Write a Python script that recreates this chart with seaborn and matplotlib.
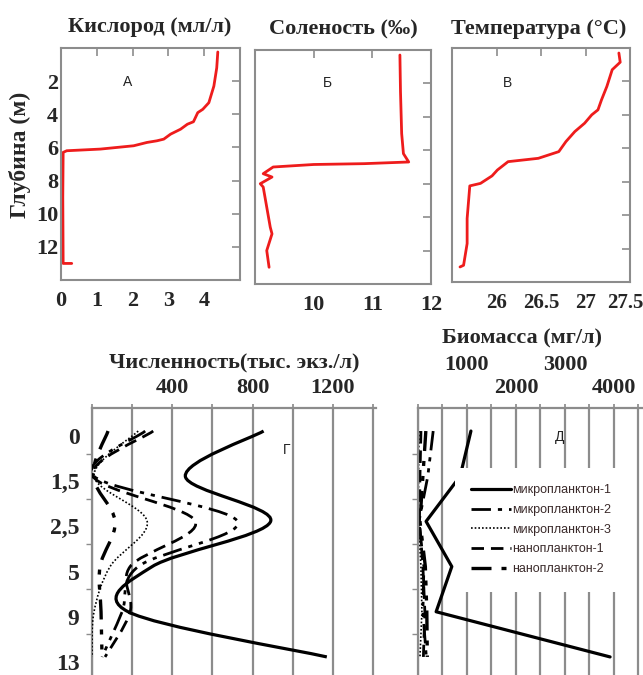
import numpy as np
import pandas as pd
import matplotlib
matplotlib.use('Agg')
import matplotlib.pyplot as plt
import seaborn as sns
from matplotlib.path import Path
from matplotlib.patches import PathPatch
from matplotlib.lines import Line2D
from matplotlib.ticker import FixedLocator
from matplotlib.transforms import ScaledTranslation

# --- профили (верхний ряд) ---
oxygen = [4.38, 4.35, 4.27, 4.20, 4.13, 3.96, 3.82, 3.70, 3.53, 3.34, 3.06, 2.87,
          2.68, 2.40, 2.03, 1.10, 0.16, 0.06, 0.05, 0.06, 0.30]
oxygen_depth = [0.24, 1.2, 2.3, 2.8, 3.3, 3.7, 3.9, 4.45, 4.6, 4.9, 5.2, 5.5,
                5.6, 5.7, 5.9, 6.1, 6.2, 6.3, 9.0, 13.0, 13.0]

salinity = [11.47, 11.48, 11.50, 11.53, 11.62, 10.86, 10.00, 9.31, 9.14, 9.29,
            9.09, 9.14, 9.20, 9.26, 9.29, 9.20, 9.24]
salinity_depth = [0.3, 2.5, 5.0, 6.2, 6.7, 6.8, 6.85, 7.0, 7.4, 7.6,
                  8.0, 8.2, 9.4, 10.6, 11.0, 12.0, 13.0]

temperature = [27.375, 27.39, 27.30, 27.24, 27.18, 27.14, 27.07, 26.99, 26.88,
               26.78, 26.70, 26.47, 26.13, 26.01, 25.95, 25.82, 25.70, 25.67,
               25.67, 25.63, 25.59]
temperature_depth = [0.3, 0.85, 1.3, 2.3, 3.1, 3.7, 4.0, 4.5, 5.0, 5.6, 6.2,
                     6.6, 6.8, 7.3, 7.65, 8.1, 8.25, 10.2, 11.7, 13.0, 13.1]

# --- планктон (нижний ряд) ---
depth_labels = ['0', '1,5', '2,5', '5', '9', '13']
series_names = ['микропланктон-1', 'микропланктон-2', 'микропланктон-3',
                'нанопланктон-1', 'нанопланктон-2']

count_m1 = [855, 465, 890, 300, 180, 1170]
count_m2 = [265, 10, 725, 230, 150, 50]
count_m3 = [230, 10, 275, 90, 10, 0]
count_n1 = [305, 5, 515, 190, 190, 65]
count_n2 = [80, 5, 115, 40, 45, 50]

bio_m1 = [1080, 860, 165, 690, 370, 3920]
bio_m2 = [310, 200, 20, 120, 100, 170]
bio_m3 = [20, 10, 10, 60, 80, 40]
bio_n1 = [60, 40, 30, 100, 140, 110]
bio_n2 = [160, 100, 40, 150, 180, 190]

W, H = 643, 675
RED = '#ee1c1c'
GREY = '#8c8c8c'

sns.set_theme(style='white')
plt.rcParams['font.family'] = ['Liberation Serif', 'DejaVu Serif']
plt.rcParams['font.weight'] = 'bold'

fig = plt.figure(figsize=(W / 100, H / 100), dpi=100)


def box(l, t, r, b):
    return [l / W, 1 - b / H, (r - l) / W, (b - t) / H]


def shift(label, dx, dy):
    # сдвиг подписи в пикселях
    label.set_transform(label.get_transform() +
                        ScaledTranslation(dx / 100, -dy / 100, fig.dpi_scale_trans))


def profile(ax, x, depth, xlim, xticks, xlabels, ylabels, size=16):
    df = pd.DataFrame({'x': x, 'depth': depth})
    sns.lineplot(data=df, x='x', y='depth', sort=False, estimator=None,
                 color=RED, lw=2, ax=ax)
    ax.set_xlim(*xlim)
    ax.set_ylim(14, 0)
    ax.set_xlabel('')
    ax.set_ylabel('')
    ax.set_xticks(xticks)
    ax.set_xticklabels(xlabels)
    ax.set_yticks(range(2, 13, 2))
    ax.tick_params(direction='in', length=6, width=1.2, color=GREY,
                   top=True, right=True, labelsize=size)
    ax.tick_params(axis='x', pad=8)
    ax.tick_params(axis='y', pad=2, labelleft=ylabels, labelsize=16)
    for s in ax.spines.values():
        s.set_color(GREY)
        s.set_linewidth(1.5)


ax_a = fig.add_axes(box(61, 48, 240, 280))
profile(ax_a, oxygen, oxygen_depth, (0, 5), [0, 1, 2, 3, 4],
        ['0', '1', '2', '3', '4'], True)
ax_b = fig.add_axes(box(255, 50, 431, 284))
profile(ax_b, salinity, salinity_depth, (9, 12), [10, 11, 12],
        ['10', '11', '12'], False)
ax_c = fig.add_axes(box(452, 48, 630, 282))
profile(ax_c, temperature, temperature_depth, (25.5, 27.5),
        [26, 26.5, 27, 27.5], ['26', '26.5', '27', '27.5'], False, size=15)
shift(ax_c.get_xticklabels()[-1], -5, 0)

title_kw = dict(fontsize=16, fontweight='bold', ha='center', va='center')
fig.text(150 / W, 1 - 27 / H, 'Кислород (мл/л)', **title_kw)
fig.text(343 / W, 1 - 29 / H, 'Соленость (‰)', **title_kw)
fig.text(539 / W, 1 - 29 / H, 'Температура (°C)', **title_kw)
fig.text(20 / W, 1 - 155 / H, 'Глубина (м)', rotation=90, fontsize=17,
         fontweight='bold', ha='center', va='center')

letter_kw = dict(fontsize=10, fontweight='normal', ha='center', va='center',
                 family=['Liberation Sans', 'DejaVu Sans'], color='#222222')
fig.text(128 / W, 1 - 82 / H, 'А', **letter_kw)
fig.text(327 / W, 1 - 83 / H, 'Б', **letter_kw)
fig.text(507 / W, 1 - 83 / H, 'В', **letter_kw)

# стили линий
styles = {
    'микропланктон-1': dict(ls='-', lw=2.3),
    'микропланктон-2': dict(ls=(0, (7, 2.5, 1.5, 2.5, 1.5, 2.5)), lw=2.0),
    'микропланктон-3': dict(ls=(0, (1, 1.2)), lw=1.2),
    'нанопланктон-1': dict(ls=(0, (4.5, 2.5)), lw=2.0),
    'нанопланктон-2': dict(ls=(0, (6, 3, 1.5, 3, 1.5, 3)), lw=2.4),
}

pos = np.arange(len(depth_labels))
YLIM = (5.4, -0.51)


def smooth_path(xs, ys):
    pts = np.column_stack([xs, ys]).astype(float)
    ext = np.vstack([pts[0], pts, pts[-1]])
    verts = [pts[0]]
    codes = [Path.MOVETO]
    for i in range(len(pts) - 1):
        p0, p1, p2, p3 = ext[i], ext[i + 1], ext[i + 2], ext[i + 3]
        verts += [p1 + (p2 - p0) / 6, p2 - (p3 - p1) / 6, p2]
        codes += [Path.CURVE4] * 3
    return Path(verts, codes)


def style_bottom(ax, xlim, step):
    ax.set_xlim(*xlim)
    ax.set_ylim(*YLIM)
    ax.set_xlabel('')
    ax.set_ylabel('')
    ax.xaxis.tick_top()
    ax.set_xticks(np.arange(0, xlim[1], step))
    ax.grid(axis='x', color=GREY, lw=1.6)
    ax.grid(axis='y', visible=False)
    ax.set_yticks(pos)
    ax.yaxis.set_minor_locator(FixedLocator(pos[:-1] + 0.5))
    ax.tick_params(axis='y', which='minor', length=4, width=1, color=GREY,
                   direction='out', left=True)
    ax.tick_params(axis='x', which='major', top=True, bottom=False, length=3,
                   color=GREY, direction='out', labelsize=16, pad=4)
    for side in ['bottom', 'right']:
        ax.spines[side].set_visible(False)
    for side in ['top', 'left']:
        ax.spines[side].set_color(GREY)
        ax.spines[side].set_linewidth(1.6)


# Г — численность
ax_g = fig.add_axes(box(92, 408, 376, 675))
counts = [count_m1, count_m2, count_m3, count_n1, count_n2]
for name, vals in zip(series_names, counts):
    st = styles[name]
    ax_g.add_patch(PathPatch(smooth_path(vals, pos), fill=False,
                             edgecolor='black', lw=st['lw'],
                             linestyle=st['ls'], zorder=3))
style_bottom(ax_g, (0, 1415), 200)
ax_g.set_xticklabels([str(v) if v in (400, 800, 1200) else ''
                      for v in np.arange(0, 1415, 200)])
ax_g.set_yticklabels(depth_labels)
ax_g.tick_params(axis='y', which='major', length=0, pad=9, labelsize=17)
for lbl in ax_g.get_yticklabels():
    shift(lbl, 0, 5)
fig.text(234 / W, 1 - 363 / H, 'Численность(тыс. экз./л)', **title_kw)

# Д — биомасса
ax_d = fig.add_axes(box(418, 408, 643, 675))
bio = pd.DataFrame({
    'pos': np.tile(pos, 5),
    'value': np.concatenate([bio_m1, bio_m2, bio_m3, bio_n1, bio_n2]),
    'series': np.repeat(series_names, len(pos)),
})
sns.lineplot(data=bio, x='value', y='pos', hue='series', style='series',
             size='series', sort=False, estimator=None,
             palette={n: 'black' for n in series_names},
             dashes={n: ('' if styles[n]['ls'] == '-' else styles[n]['ls'][1])
                     for n in series_names},
             sizes={n: styles[n]['lw'] for n in series_names},
             legend=False, ax=ax_d)
style_bottom(ax_d, (0, 4592), 500)
ax_d.set_xticklabels([str(v) if v in (2000, 4000) else ''
                      for v in np.arange(0, 4592, 500)])
ax_d.tick_params(axis='y', which='major', length=0, labelleft=False)
sec = ax_d.secondary_xaxis('top')
sec.set_xticks([1000, 3000])
sec.set_xticklabels(['1000', '3000'])
sec.tick_params(length=0, pad=24, labelsize=16)
sec.spines['top'].set_visible(False)
fig.text(522 / W, 1 - 338 / H, 'Биомасса (мг/л)', **title_kw)

handles = [Line2D([], [], color='black', lw=styles[n]['lw'],
                  linestyle=styles[n]['ls']) for n in series_names]
ax_d.legend(handles, series_names, loc='upper left',
            bbox_to_anchor=(455 / W, 1 - 468 / H),
            bbox_transform=fig.transFigure, frameon=True, facecolor='white',
            edgecolor='none', framealpha=1, fancybox=False,
            prop={'family': ['Liberation Sans', 'DejaVu Sans'], 'size': 9,
                  'weight': 'normal'},
            labelcolor='#3a2a2a', handlelength=3.2, handletextpad=0.1,
            labelspacing=0.62, borderpad=1.3, borderaxespad=0)

fig.text(287 / W, 1 - 450 / H, 'Г', **letter_kw)
fig.text(560 / W, 1 - 437 / H, 'Д', **letter_kw)

fig.savefig('out.png', dpi=100)
